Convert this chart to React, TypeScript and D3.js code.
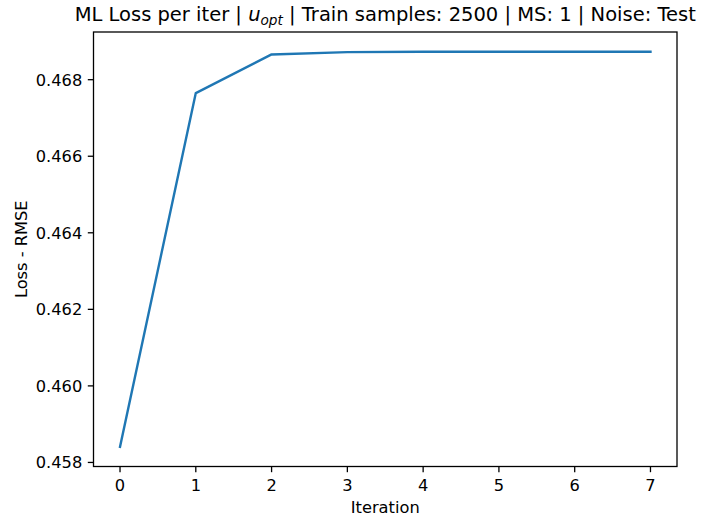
import React from "react";
import * as d3 from "d3";

const iterations = [0, 1, 2, 3, 4, 5, 6, 7];
const losses = [0.45841, 0.46765, 0.46866, 0.46872, 0.46873, 0.46873, 0.46873, 0.46873];
const xTicks = [0, 1, 2, 3, 4, 5, 6, 7];
const yTicks = [0.458, 0.46, 0.462, 0.464, 0.466, 0.468];

const W = 702, H = 518;
const M = { left: 93.5, right: 677, top: 32, bottom: 466.5 };
const FONT = "DejaVu Sans, sans-serif";
const FS = 16.25;
const TFS = 19.5;

export default function App() {
  const xmin = d3.min(iterations)!, xmax = d3.max(iterations)!;
  const ymin = d3.min(losses)!, ymax = d3.max(losses)!;
  const xm = (xmax - xmin) * 0.05, ym = (ymax - ymin) * 0.05;
  const x = d3.scaleLinear().domain([xmin - xm, xmax + xm]).range([M.left, M.right]);
  const y = d3.scaleLinear().domain([ymin - ym, ymax + ym]).range([M.bottom, M.top]);
  const line = d3.line<number>().x((_, i) => x(iterations[i])).y((d) => y(d));
  const cx = (M.left + M.right) / 2;
  const cy = (M.top + M.bottom) / 2;
  return (
    <svg width={W} height={H} style={{ position: "absolute", left: 0, top: 0, background: "#fff" }} fontFamily={FONT}>
      <rect x={0} y={0} width={W} height={H} fill="#fff" />
      <path d={line(losses)!} fill="none" stroke="#1f77b4" strokeWidth={2.4} strokeLinejoin="round" strokeLinecap="square" />
      <rect x={M.left} y={M.top} width={M.right - M.left} height={M.bottom - M.top} fill="none" stroke="#000" strokeWidth={1.3} />
      {xTicks.map((t) => (
        <g key={t}>
          <line x1={x(t)} x2={x(t)} y1={M.bottom} y2={M.bottom + 5.7} stroke="#000" strokeWidth={1.3} />
          <text x={x(t)} y={M.bottom + 24.2} textAnchor="middle" fontSize={FS} fill="#000">{t}</text>
        </g>
      ))}
      {yTicks.map((t) => (
        <g key={t}>
          <line x1={M.left - 5.7} x2={M.left} y1={y(t)} y2={y(t)} stroke="#000" strokeWidth={1.3} />
          <text x={M.left - 11.2} y={y(t)} dy="0.36em" textAnchor="end" fontSize={FS} fill="#000">{d3.format(".3f")(t)}</text>
        </g>
      ))}
      <text x={cx} y={512.7} textAnchor="middle" fontSize={FS} fill="#000">Iteration</text>
      <text transform={`translate(26.7,${cy}) rotate(-90)`} textAnchor="middle" fontSize={FS} fill="#000">Loss - RMSE</text>
      <text x={cx} y={21} textAnchor="middle" fontSize={TFS} fill="#000">
        <tspan>ML Loss per iter | </tspan>
        <tspan fontStyle="italic">u</tspan>
        <tspan fontStyle="italic" fontSize={TFS * 0.7} dy={3.5}>opt</tspan>
        <tspan dy={-3.5}> | Train samples: 2500 | MS: 1 | Noise: Test</tspan>
      </text>
    </svg>
  );
}
